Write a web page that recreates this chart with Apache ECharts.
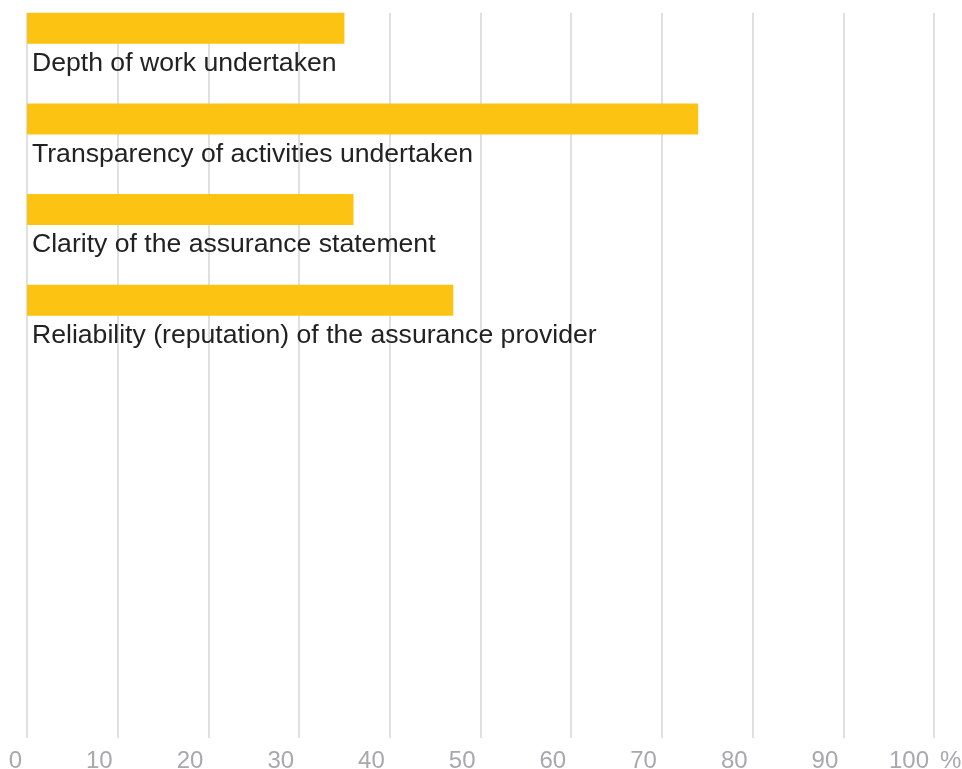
<!DOCTYPE html>
<html>
<head>
<meta charset="utf-8">
<script src="https://cdn.jsdelivr.net/npm/echarts@6/dist/echarts.min.js"></script>
<style>
  html, body { margin: 0; padding: 0; background: #ffffff; }
  #chart { width: 962px; height: 769px; }
</style>
</head>
<body>
<div id="chart"></div>
<script>
// Survey responses: share of respondents (%) per assurance aspect
const categories = [
  'Depth of work undertaken',
  'Transparency of activities undertaken',
  'Clarity of the assurance statement',
  'Reliability (reputation) of the assurance provider'
];
const values = [35, 74, 36, 47];
const slotCount = 8; // rows reserved on the category axis
const xTicks = [0, 10, 20, 30, 40, 50, 60, 70, 80, 90, 100];

const rows = categories.concat(new Array(slotCount - categories.length).fill(''));

const FONT = '"Liberation Sans", Arial, Helvetica, sans-serif';
const chart = echarts.init(document.getElementById('chart'), null, { renderer: 'canvas' });

const gridLeft = 27, gridRight = 28, gridTop = 13, gridBottom = 31;
const rowShift = 30; // bars sit at the top of each row, labels underneath

chart.setOption({
  animation: false,
  backgroundColor: '#ffffff',
  grid: [
    { left: gridLeft, right: gridRight, top: gridTop, bottom: gridBottom,
      containLabel: false, outerBoundsMode: 'none' },
    { left: gridLeft, right: gridRight, top: gridTop - rowShift, bottom: gridBottom + rowShift,
      containLabel: false, outerBoundsMode: 'none' }
  ],
  xAxis: [
    {
      gridIndex: 0,
      type: 'value',
      min: xTicks[0],
      max: xTicks[xTicks.length - 1],
      interval: 10,
      axisLine: { show: false },
      axisTick: { show: false },
      splitLine: { show: true, lineStyle: { color: '#d6d6d6', width: 1.5 } },
      axisLabel: {
        fontFamily: FONT,
        fontSize: 24,
        color: '#a9a9ad',
        align: 'right',
        padding: [0, 5, 0, 0],
        margin: 11
      },
      name: '%',
      nameLocation: 'end',
      nameGap: 6,
      nameTextStyle: {
        fontFamily: FONT,
        fontSize: 24,
        color: '#a9a9ad',
        align: 'left',
        verticalAlign: 'top',
        padding: [11, 0, 0, 0]
      }
    },
    {
      gridIndex: 1,
      type: 'value',
      min: xTicks[0],
      max: xTicks[xTicks.length - 1],
      show: false
    }
  ],
  yAxis: [
    { gridIndex: 0, type: 'category', data: rows, inverse: true, show: false },
    { gridIndex: 1, type: 'category', data: rows, inverse: true, show: false }
  ],
  series: [
    {
      type: 'bar',
      xAxisIndex: 1,
      yAxisIndex: 1,
      data: values,
      barWidth: 31,
      itemStyle: { color: '#fdc313' },
      label: {
        show: true,
        formatter: (p) => categories[p.dataIndex],
        position: [5, 51],
        align: 'left',
        verticalAlign: 'middle',
        fontFamily: FONT,
        fontSize: 26.6,
        color: '#222222'
      }
    }
  ]
});
</script>
</body>
</html>
